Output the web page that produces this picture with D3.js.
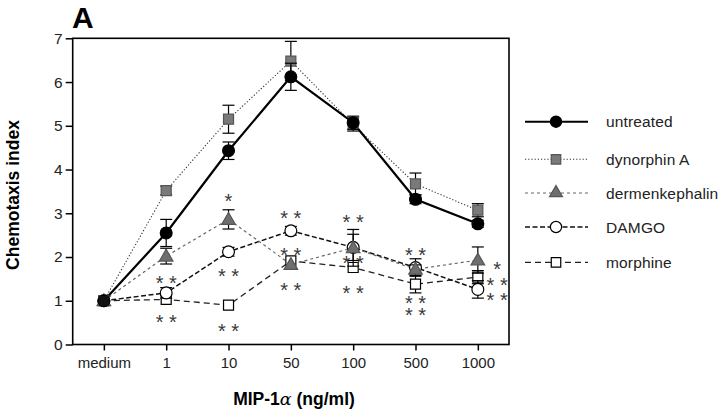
<!DOCTYPE html>
<html><head><meta charset="utf-8">
<script src="https://cdnjs.cloudflare.com/ajax/libs/d3/7.8.5/d3.min.js"></script>
<style>body{margin:0;background:#fff}svg{display:block}text{font-family:Arial,"Liberation Sans",sans-serif}</style>
</head><body>
<svg id="c" width="720" height="415"></svg>
<script>
const categories = ["medium","1","10","50","100","500","1000"];
const yTicks = [0,1,2,3,4,5,6,7];
const untreated      = [1, 2.55, 4.43, 6.12, 5.07, 3.32, 2.76];
const untreatedErr   = [0, 0.31, 0.20, 0.31, 0.15, 0.10, 0.08];
const dynorphin      = [1, 3.52, 5.15, 6.48, 5.03, 3.67, 3.07];
const dynorphinErr   = [0, 0.10, 0.32, 0.45, 0.15, 0.25, 0.15];
const dermenkephalin = [1, 2.02, 2.86, 1.83, 2.21, 1.72, 1.93];
const dermenkErr     = [0, 0.18, 0.22, 0.00, 0.42, 0.10, 0.30];
const damgo          = [1, 1.18, 2.12, 2.60, 2.22, 1.76, 1.26];
const damgoErr       = [0, 0.12, 0.10, 0.10, 0.30, 0.20, 0.20];
const morphine       = [1, 1.03, 0.90, 1.91, 1.76, 1.38, 1.54];
const morphineErr    = [0, 0.00, 0.00, 0.00, 0.00, 0.20, 0.15];
// significance marks (stacked lines separated by "|")
const sigCats  = ["1","1","10","10","10","50","50","50","100","100","100","500","500","1000"];
const sigVals  = [1.50, 0.63, 3.39, 1.66, 0.41, 3.00, 2.16, 1.35, 2.91, 1.97, 1.28, 2.16, 1.06, 1.82];
const sigText  = ["* *","* *","*","* *","* *","* *","* *","* *","* *","* *","* *","* *","* *|* *","*|* *|* *"];
const sigShift = [0,0,0,0,0,0,0,0,0,0,0,0,0,0.31];
const seriesNames = ["untreated","dynorphin A","dermenkephalin","DAMGO","morphine"];

const svg = d3.select("#c");
const pLeft = 72.7, pRight = 509, pTop = 38.3, pBottom = 344.5;
const x = d3.scalePoint().domain(categories).range([pLeft, pRight]).padding(0.5);
const y = d3.scaleLinear().domain([0,7]).range([pBottom, pTop]);

svg.append("rect").attr("x",pLeft).attr("y",pTop).attr("width",pRight-pLeft).attr("height",pBottom-pTop)
  .attr("fill","none").attr("stroke","#000").attr("stroke-width",1.6);

const yAxis = svg.append("g").attr("transform",`translate(${pLeft},0)`)
  .call(d3.axisLeft(y).tickValues(yTicks).tickSize(7).tickPadding(3).tickFormat(d3.format("d")));
yAxis.select(".domain").remove();
yAxis.selectAll("line").attr("stroke-width",1.5);
yAxis.selectAll("text").attr("font-size",15.5).attr("fill","#222");

const xAxis = svg.append("g").attr("transform",`translate(0,${pBottom})`)
  .call(d3.axisBottom(x).tickSize(6).tickPadding(7));
xAxis.select(".domain").remove();
xAxis.selectAll("line").attr("stroke-width",1.5);
xAxis.selectAll("text").attr("font-size",15).attr("fill","#222");

svg.append("text").attr("x",72).attr("y",28).attr("font-size",30).attr("font-weight","bold").text("A");
svg.append("text").attr("transform","translate(18.5,195) rotate(-90)").attr("text-anchor","middle")
  .attr("font-size",17.5).attr("font-weight","bold").text("Chemotaxis index");
const xl = svg.append("text").attr("x",294).attr("y",405).attr("text-anchor","middle").attr("font-size",17.5).attr("font-weight","bold");
xl.append("tspan").text("MIP-1");
xl.append("tspan").attr("font-weight","normal").attr("font-family","'DejaVu Serif',serif").attr("font-style","italic").text("α");
xl.append("tspan").text(" (ng/ml)");

const series = [
  {name:seriesNames[0], v:untreated, e:untreatedErr, line:"#000", lw:2.2, dash:null, shape:"circle", fill:"#000", stroke:"#000"},
  {name:seriesNames[1], v:dynorphin, e:dynorphinErr, line:"#333", lw:1.1, dash:"1.2,2", shape:"square", fill:"#7a7a7a", stroke:"#555"},
  {name:seriesNames[2], v:dermenkephalin, e:dermenkErr, line:"#666", lw:1.2, dash:"3,3", shape:"triangle", fill:"#6e6e6e", stroke:"#555"},
  {name:seriesNames[3], v:damgo, e:damgoErr, line:"#111", lw:1.5, dash:"5,2.5", shape:"circle", fill:"#fff", stroke:"#000"},
  {name:seriesNames[4], v:morphine, e:morphineErr, line:"#222", lw:1.3, dash:"6,4", shape:"square", fill:"#fff", stroke:"#000"}
];

const line = d3.line().x((d,i)=>x(categories[i])).y(d=>y(d));
const sym = {circle:d3.symbolCircle, square:d3.symbolSquare, triangle:d3.symbolTriangle};
const symSize = {circle:110, square:100, triangle:80};

const order = [4,3,2,1,0];
order.forEach(k=>{
  const s = series[k];
  svg.append("path").datum(s.v).attr("d",line).attr("fill","none")
    .attr("stroke",s.line).attr("stroke-width",s.lw).attr("stroke-dasharray",s.dash);
});
order.forEach(k=>{
  const s = series[k];
  const g = svg.append("g");
  s.v.forEach((v,i)=>{
    const e = s.e[i]; if(!e) return;
    const cx = x(categories[i]);
    g.append("line").attr("x1",cx).attr("x2",cx).attr("y1",y(v+e)).attr("y2",y(v-e)).attr("stroke","#000").attr("stroke-width",1.2);
    [v+e,v-e].forEach(w=>g.append("line").attr("x1",cx-6).attr("x2",cx+6).attr("y1",y(w)).attr("y2",y(w)).attr("stroke","#000").attr("stroke-width",1.2));
  });
  s.v.forEach((v,i)=>{
    g.append("path").attr("d",d3.symbol().type(sym[s.shape]).size(symSize[s.shape])())
      .attr("transform",`translate(${x(categories[i])},${y(v)+(s.shape==="triangle"?1:0)})`)
      .attr("fill",s.fill).attr("stroke",s.stroke).attr("stroke-width",1.2);
  });
});
svg.append("path").attr("d",d3.symbol().type(d3.symbolSquare).size(100)())
  .attr("transform",`translate(${x("medium")},${y(morphine[0])})`).attr("fill","#111");

const step = x.step();
const afs = 20;
sigCats.forEach((c,i)=>{
  const cx = x(c)+sigShift[i]*step;
  const t = svg.append("text").attr("x",cx).attr("y",y(sigVals[i])+afs*0.58)
    .attr("text-anchor","middle")
    .attr("font-family","DejaVu Sans, sans-serif").attr("font-size",afs).attr("fill","#3a3a3a").style("white-space","pre");
  sigText[i].split("|").forEach((s,j)=>{
    t.append("tspan").attr("x",cx).attr("dy",j===0?0:(i===12?12.4:15.5)).text(s);
  });
});

const lg = svg.append("g");
const ly = [121.7,159.3,193,227,262.3];
series.forEach((s,i)=>{
  lg.append("line").attr("x1",525).attr("x2",588).attr("y1",ly[i]).attr("y2",ly[i])
    .attr("stroke",s.line).attr("stroke-width",s.lw===2.2?2:s.lw).attr("stroke-dasharray",s.dash);
  lg.append("path").attr("d",d3.symbol().type(sym[s.shape]).size(symSize[s.shape]*0.9)())
    .attr("transform",`translate(556,${ly[i]})`).attr("fill",s.fill).attr("stroke",s.stroke).attr("stroke-width",1.2);
  lg.append("text").attr("x",606).attr("y",ly[i]+5.5).attr("font-size",15.5).attr("letter-spacing",0.15).attr("fill","#222").text(s.name);
});
</script>
</body></html>
